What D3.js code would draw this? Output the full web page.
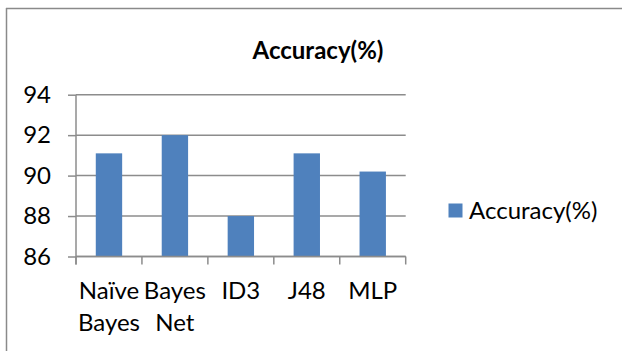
<!DOCTYPE html>
<html>
<head>
<meta charset="utf-8">
<script src="https://cdn.jsdelivr.net/npm/d3@7"></script>
<style>
  html, body { margin: 0; padding: 0; background: #fff; overflow: hidden; }
  svg { display: block; font-family: Lato, "Liberation Sans", sans-serif; }
</style>
</head>
<body>
<svg id="chart" width="622" height="351"></svg>
<script>
// Classifier accuracy (%)
const categories = ["Naïve Bayes", "Bayes Net", "ID3", "J48", "MLP"];
const accuracy = [91.1, 92.0, 88.0, 91.1, 90.2];
const yTicks = [86, 88, 90, 92, 94];
const seriesName = "Accuracy(%)";
const chartTitle = "Accuracy(%)";

const svg = d3.select("#chart");
const barColor = "#4f81bd";
const lineColor = "#8c8c8c";
const labelSize = "24px";

const plot = { left: 76, right: 405.7, top: 94.7, bottom: 256.5 };

// Chart frame: top and left edges
svg.append("line")
  .attr("x1", 6.5).attr("x2", 6.5).attr("y1", 8).attr("y2", 351)
  .attr("stroke", "#8a8a8a").attr("stroke-width", 1.5);
svg.append("line")
  .attr("x1", 6).attr("x2", 622).attr("y1", 8.5).attr("y2", 8.5)
  .attr("stroke", "#8a8a8a").attr("stroke-width", 1.5);

const x = d3.scaleBand()
  .domain(categories)
  .range([plot.left, plot.right])
  .paddingInner(0.6)
  .paddingOuter(0.3);

const y = d3.scaleLinear()
  .domain([d3.min(yTicks), d3.max(yTicks)])
  .range([plot.bottom, plot.top]);

// Horizontal gridlines
svg.append("g")
  .selectAll("line")
  .data(yTicks)
  .join("line")
  .attr("x1", plot.left).attr("x2", plot.right)
  .attr("y1", d => y(d)).attr("y2", d => y(d))
  .attr("stroke", lineColor)
  .attr("stroke-width", 1.5);

// Bars
svg.append("g")
  .selectAll("rect")
  .data(categories.map((c, i) => ({ c, v: accuracy[i] })))
  .join("rect")
  .attr("x", d => x(d.c))
  .attr("width", x.bandwidth())
  .attr("y", d => y(d.v))
  .attr("height", d => y(d3.min(yTicks)) - y(d.v))
  .attr("fill", barColor);

// Y axis
const yAxis = svg.append("g")
  .attr("transform", `translate(${plot.left},0)`)
  .call(d3.axisLeft(y).tickValues(yTicks).tickSize(8).tickPadding(17).tickSizeOuter(0));
yAxis.select(".domain").remove();
yAxis.selectAll(".tick line").attr("stroke", lineColor).attr("stroke-width", 1.5);
yAxis.selectAll(".tick text")
  .attr("fill", "#000")
  .style("font-size", labelSize)
  .style("font-family", "Lato, sans-serif");
yAxis.append("line")
  .attr("x1", 0).attr("x2", 0)
  .attr("y1", plot.top).attr("y2", plot.bottom + 8)
  .attr("stroke", lineColor).attr("stroke-width", 1.5);

// X axis: baseline, category boundary ticks, wrapped labels
const xg = svg.append("g");
xg.append("line")
  .attr("x1", plot.left).attr("x2", plot.right)
  .attr("y1", plot.bottom).attr("y2", plot.bottom)
  .attr("stroke", lineColor).attr("stroke-width", 1.5);
const step = x.step();
const bounds = d3.range(categories.length + 1).map(i => plot.left + i * step);
xg.selectAll("line.b")
  .data(bounds)
  .join("line")
  .attr("class", "b")
  .attr("x1", d => d).attr("x2", d => d)
  .attr("y1", plot.bottom).attr("y2", plot.bottom + 8)
  .attr("stroke", lineColor).attr("stroke-width", 1.5);

const labels = xg.selectAll("text")
  .data(categories)
  .join("text")
  .attr("x", d => x(d) + x.bandwidth() / 2)
  .attr("y", 299)
  .attr("text-anchor", "middle")
  .style("font-size", labelSize);
labels.selectAll("tspan")
  .data(d => d.split(" "))
  .join("tspan")
  .attr("x", function () { return this.parentNode.getAttribute("x"); })
  .attr("dy", (d, i) => i === 0 ? 0 : 32)
  .text(d => d);

// Title
svg.append("text")
  .attr("x", 318).attr("y", 59)
  .attr("text-anchor", "middle")
  .style("font-size", "24px")
  .style("font-weight", "bold")
  .text(chartTitle);

// Legend
const lg = svg.append("g");
lg.append("rect")
  .attr("x", 448.5).attr("y", 203.5)
  .attr("width", 14).attr("height", 14)
  .attr("fill", barColor);
lg.append("text")
  .attr("x", 469).attr("y", 219)
  .style("font-size", labelSize)
  .text(seriesName);
</script>
</body>
</html>
